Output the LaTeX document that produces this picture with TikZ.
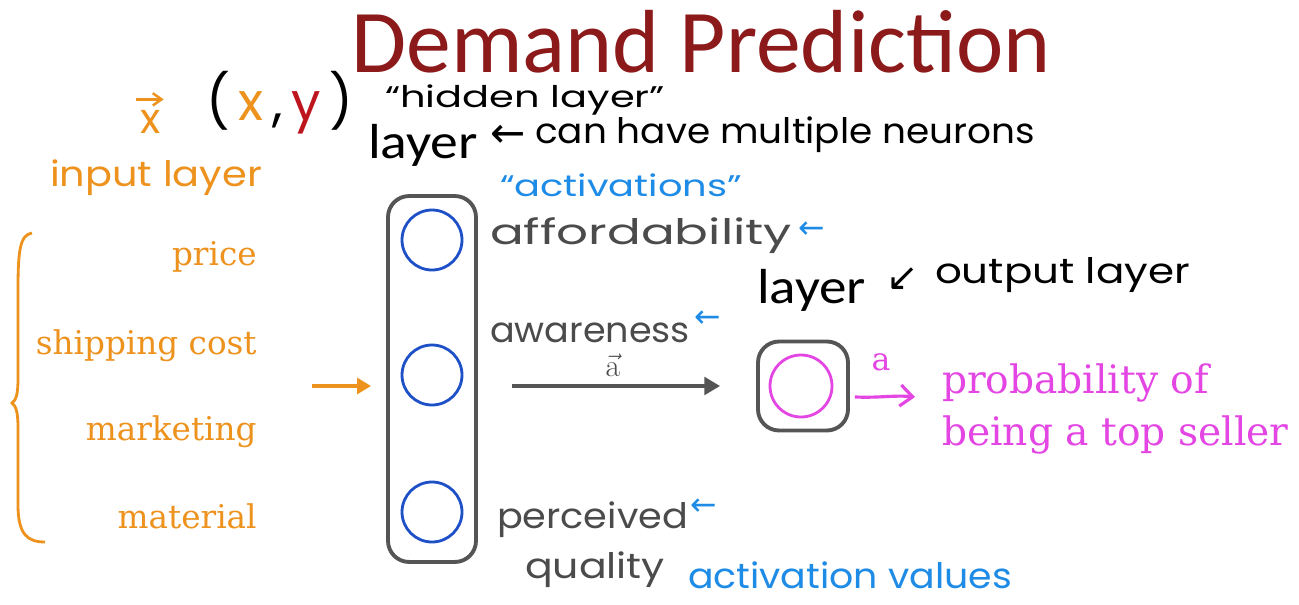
\documentclass[tikz,border=0pt]{standalone}
\usepackage{fontspec}
\usepackage{graphicx}
\usetikzlibrary{arrows.meta}
\newfontfamily\titlefont{Carlito}
\newfontfamily\hand{Poppins}
\newfontfamily\serifx{DejaVu Serif}
\newfontfamily\sym{DejaVu Sans}
\newcommand\hfit[2]{\resizebox{#1}{\height}{#2}}
\definecolor{titlered}{RGB}{140,26,26}
\definecolor{inorange}{RGB}{238,146,30}
\definecolor{actblue}{RGB}{30,140,230}
\definecolor{neuronblue}{RGB}{30,80,200}
\definecolor{pinkm}{RGB}{228,70,228}
\definecolor{handgray}{RGB}{75,75,75}
\definecolor{boxgray}{RGB}{85,85,85}
\definecolor{yred}{RGB}{190,20,30}
\tikzset{
  txt/.style={inner sep=0pt, outer sep=0pt, anchor=base west},
  handm/.style={txt, font=\hand\fontsize{20}{24}\selectfont},
  hands/.style={txt, font=\hand\fontsize{17}{20}\selectfont},
  inlabel/.style={inner sep=0pt, anchor=base east, text=inorange, font=\serifx\fontsize{18.6}{22}\selectfont},
  layerlbl/.style={txt, font=\titlefont\fontsize{28}{30}\selectfont},
  layerbox/.style={draw=boxgray, line width=2.2pt, rounded corners=12pt},
  neuron/.style={circle, draw=neuronblue, line width=1.6pt, minimum size=1.2cm, inner sep=0pt},
  smallarrow/.style={txt, text=actblue, font=\sym\fontsize{18}{20}\selectfont},
}
\begin{document}
\begin{tikzpicture}[x=0.02cm,y=-0.02cm]
\useasboundingbox[fill=white] (0,0) rectangle (1299,605);
% title
\node[inner sep=0pt, anchor=base, text depth=0pt, text=titlered, font=\titlefont\fontsize{51}{60}\selectfont] (title) at (701,72) {Demand Prediction};
% top-left annotations
\node[handm, text=inorange, font=\hand\fontsize{24}{28}\selectfont] (xv) at (140,133) {x};
\draw[inorange, line width=1.4pt, -{Straight Barb[length=5pt,width=7pt]}] ([yshift=6pt,xshift=-2pt]xv.north west) -- ([yshift=6pt,xshift=2pt]xv.north east);
\node[handm, font=\hand\fontsize{30}{34}\selectfont] (xy) at (206,120) {\hfit{2.94cm}{(\,\textcolor{inorange}{x}\,,\,\textcolor{yred}{y}\,)}};
\node[handm, text=inorange] (inlayer) at (50,186) {\hfit{4.24cm}{input layer}};
\node[hands] (hidq) at (385,107) {\hfit{5.6cm}{“hidden layer”}};
\node[layerlbl] (hlayer) at (368,158) {\hfit{2.2cm}{layer}};
\node[smallarrow, text=black, font=\sym\fontsize{24}{26}\selectfont] (multia) at (490,147) {←};
\node[handm] (multi) at (535,143) {\hfit{10cm}{can have multiple neurons}};
\node[hands, text=actblue] (actq) at (500,196) {\hfit{4.84cm}{“activations”}};
% inputs
\node[inlabel] (price) at (257,265) {price};
\node[inlabel] (ship) at (257,354) {shipping cost};
\node[inlabel] (mkt) at (257,440) {marketing};
\node[inlabel] (mat) at (257,528) {material};
\draw[inorange, line width=1.6pt] (32,233) .. controls (20,235) and (18,250) .. (18,290) -- (18,378) .. controls (18,395) and (16,400) .. (12,403) .. controls (16,406) and (18,412) .. (18,428) -- (18,505) .. controls (18,535) and (28,542) .. (45,542);
\coordinate (inarrow) at (312,386);
% hidden layer
\node[layerbox, minimum width=1.76cm, minimum height=7.32cm] (hid) at (432,379) {};
\node[neuron] (n1) at (432,240) {};
\node[neuron] (n2) at (432,375) {};
\node[neuron] (n3) at (432,512) {};
\draw[inorange, line width=2.4pt, -{Triangle[length=8pt,width=9pt]}] (inarrow) -- ([xshift=-0.3cm]hid.west |- inarrow);
% activation labels
\node[handm, text=handgray] (aff) at (490,244) {\hfit{6.04cm}{affordability}};
\node[smallarrow] (affa) at (798,238) {←};
\node[handm, text=handgray] (awa) at (490,342) {\hfit{4cm}{awareness}};
\node[smallarrow] (awaa) at (694,327) {←};
\node[handm, text=handgray] (per) at (497,528) {\hfit{3.82cm}{perceived}};
\node[smallarrow] (pera) at (690,515) {←};
\node[handm, text=handgray] (qual) at (525,578) {\hfit{2.8cm}{quality}};
\node[handm, text=actblue] (actv) at (688,588) {\hfit{6.48cm}{activation values}};
% output layer
\node[layerlbl] (olayer) at (757,303) {\hfit{2.18cm}{layer}};
\node[smallarrow, text=black, font=\sym\fontsize{22}{24}\selectfont] (outa) at (886,290) {↙};
\node[handm] (outl) at (935,283) {\hfit{5.1cm}{output layer}};
\node[layerbox, minimum width=1.8cm, minimum height=1.78cm] (ob) at (803,386) {};
\node[neuron, draw=pinkm, minimum size=1.24cm] (no) at (801,386) {};
% hidden -> output
\draw[boxgray, line width=2.2pt, -{Triangle[length=9pt,width=10pt]}] ([xshift=0.68cm]hid.east |- ob.west) -- ([xshift=-0.72cm]ob.west);
\node[inner sep=0pt, anchor=base, text=handgray, font=\fontsize{18}{20}\selectfont] (avec) at (613,376) {$\vec{\mathrm{a}}$};
% output arrow
\coordinate (oend) at (915,397);
\draw[pinkm, line width=1.8pt, -{Straight Barb[length=7pt,width=12pt]}] ([xshift=0.1cm,yshift=-0.22cm]ob.east) .. controls (880,398) and (895,395) .. (oend);
\node[inner sep=0pt, anchor=base, text=pinkm, font=\serifx\fontsize{18}{20}\selectfont] (alab) at (881,370) {a};
\node[txt, text=pinkm, font=\serifx\fontsize{22.3}{26}\selectfont] (prob1) at (942,393) {probability of};
\node[txt, text=pinkm, font=\serifx\fontsize{22.3}{26}\selectfont] (prob2) at (942,445) {being a top seller};
\end{tikzpicture}
\end{document}
